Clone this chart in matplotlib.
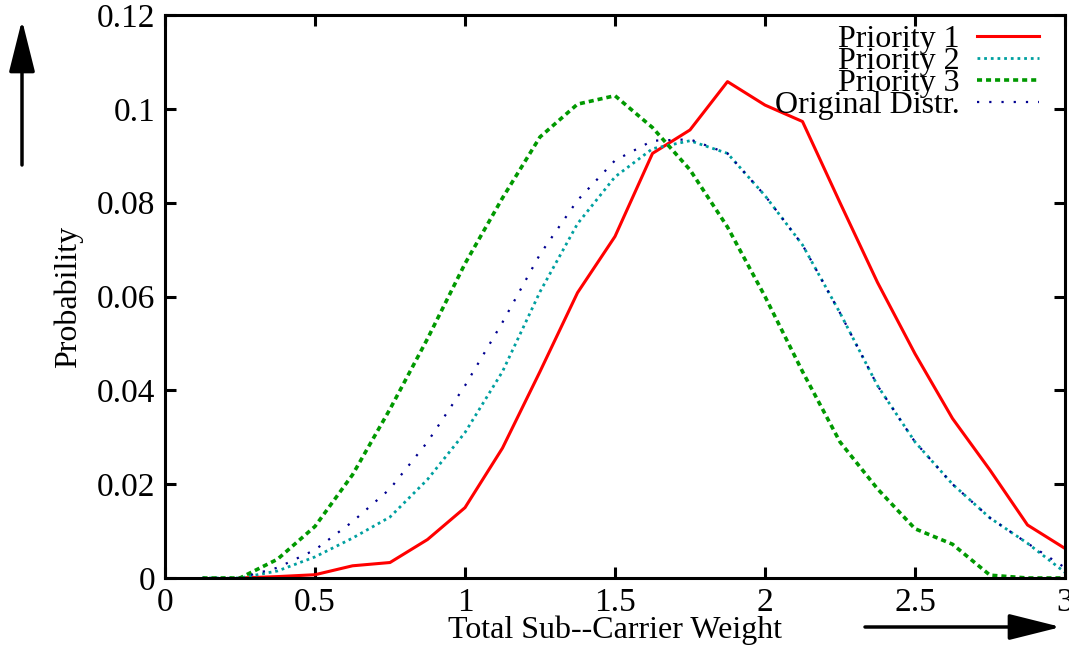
import matplotlib
matplotlib.use("Agg")
import matplotlib.pyplot as plt
from matplotlib.ticker import FuncFormatter

plt.rcParams['font.family'] = ['Liberation Serif', 'DejaVu Serif']

# sub-carrier weight samples
weight = [0.125, 0.25, 0.375, 0.5, 0.625, 0.75, 0.875, 1.0, 1.125, 1.25,
          1.375, 1.5, 1.625, 1.75, 1.875, 2.0, 2.125, 2.25, 2.375, 2.5,
          2.625, 2.75, 2.875, 3.0]

# red curve starts one sample later
weight_p1 = weight[1:]
prio1 = [0.0, 0.0003, 0.0007, 0.0026, 0.0033, 0.0082, 0.015, 0.0277, 0.044,
         0.0608, 0.0728, 0.0905, 0.0955, 0.1058, 0.1008, 0.0973, 0.080,
         0.0630, 0.0478, 0.034, 0.023, 0.0113, 0.0063]

prio2 = [0.0, 0.0, 0.0015, 0.0045, 0.0085, 0.0130, 0.021, 0.031, 0.044,
         0.061, 0.0755, 0.0855, 0.0915, 0.0932, 0.0905, 0.0815, 0.071,
         0.0565, 0.041, 0.029, 0.020, 0.0128, 0.0074, 0.0012]

prio3 = [0.0, 0.0, 0.004, 0.011, 0.022, 0.036, 0.051, 0.067, 0.081, 0.094,
         0.101, 0.1028, 0.096, 0.087, 0.0748, 0.0600, 0.044, 0.029, 0.019,
         0.0105, 0.0072, 0.0006, 0.0, 0.0]

original = [0.0, 0.0, 0.0022, 0.006, 0.012, 0.019, 0.029, 0.041, 0.0545,
            0.0690, 0.0805, 0.0890, 0.0932, 0.0935, 0.0905, 0.0815, 0.071,
            0.0565, 0.041, 0.029, 0.020, 0.0128, 0.0074, 0.0022]

labels = ['Priority 1', 'Priority 2', 'Priority 3', 'Original Distr.']

fig = plt.figure(figsize=(10.69, 6.5), dpi=100)
ax = fig.add_axes([165 / 1069, 72 / 650, 900 / 1069, 563 / 650])

styles = [
    dict(color='#ff0000', lw=2.2, linestyle='-'),
    dict(color='#00a0a0', lw=2.0, linestyle=(0, (1, 1.4))),
    dict(color='#009900', lw=2.6, linestyle=(0, (1.4, 1.1))),
    dict(color='#000090', lw=1.6, linestyle=(0, (1, 4.5))),
]

series = [(weight_p1, prio1), (weight, prio2), (weight, prio3), (weight, original)]
for (xs, ys), st in zip(series, styles):
    ax.plot(xs, ys, **st)

ax.set_xlim(0, 3)
ax.set_ylim(0, 0.12)
ax.set_xticks([0, 0.5, 1, 1.5, 2, 2.5, 3])
ax.set_yticks([0, 0.02, 0.04, 0.06, 0.08, 0.1, 0.12])
fmt = FuncFormatter(lambda v, p: '%g' % v)
ax.xaxis.set_major_formatter(fmt)
ax.yaxis.set_major_formatter(fmt)
ax.tick_params(direction='in', length=8, width=2.2, labelsize=24,
               top=True, right=True, pad=7)
for sp in ax.spines.values():
    sp.set_linewidth(2.2)

ax.set_xlabel('Total Sub--Carrier Weight', fontsize=23, labelpad=-2)
ax.set_ylabel('Probability', fontsize=23, labelpad=10)

# legend drawn gnuplot style: right aligned text, key to the right
key_y = [0.963, 0.924, 0.885, 0.846]
for i, (lab, st) in enumerate(zip(labels, styles)):
    ax.plot([0.902, 0.971], [key_y[i], key_y[i]], transform=ax.transAxes, **st)
    ax.text(0.883, key_y[i] - 0.02, lab, transform=ax.transAxes,
            ha='right', va='baseline', fontsize=23)

# direction arrows
arrow = dict(arrowstyle='-|>,head_length=1.6,head_width=0.4', lw=2.5,
             color='black', mutation_scale=20, shrinkA=0, shrinkB=0)
ax.annotate('', xy=(22, 630), xytext=(22, 485), xycoords='figure pixels',
            textcoords='figure pixels', arrowprops=arrow)
ax.annotate('', xy=(1061, 23), xytext=(865, 23), xycoords='figure pixels',
            textcoords='figure pixels', arrowprops=arrow)

fig.savefig('out.png', dpi=100)
